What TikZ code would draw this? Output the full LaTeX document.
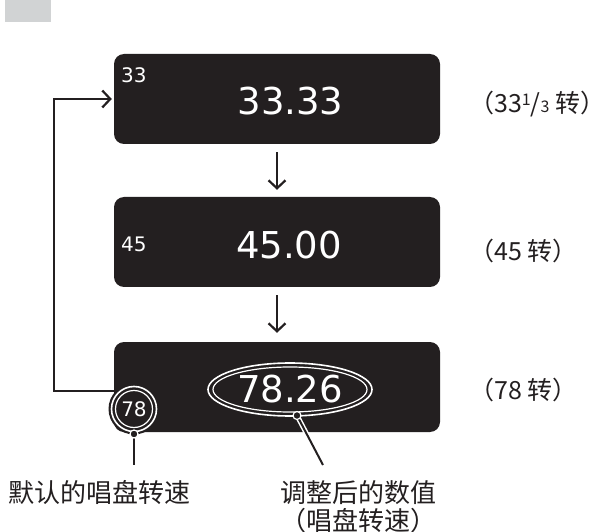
\documentclass[tikz,border=0pt]{standalone}
\usepackage{fontspec}
\setmainfont{DejaVu Sans}
\newfontfamily\cjk{Noto Sans CJK SC}
\usetikzlibrary{arrows.meta,calc}
\definecolor{boxblack}{HTML}{231F20}
\definecolor{tabgray}{HTML}{D1D3D4}
\begin{document}
\begin{tikzpicture}[x=1pt,y=-1pt,
  dispbox/.style={fill=boxblack, rounded corners=10pt, minimum width=326pt, minimum height=90pt, inner sep=0pt},
  bignum/.style={text=white, font=\fontsize{37}{37}\selectfont, inner sep=0pt},
  smallnum/.style={text=white, font=\fontsize{20}{20}\selectfont, inner sep=0pt},
  cjklabel/.style={text=boxblack, font=\cjk\fontsize{26}{28}\selectfont, inner sep=0pt},
  speedlabel/.style={text=boxblack, font=\cjk\fontsize{25}{25}\selectfont, inner sep=0pt, anchor=base west},
  flowarrow/.style={draw=boxblack, line width=2pt, -{Straight Barb[length=8pt,width=17pt,line width=2.2pt]}},
  leader/.style={draw=boxblack, line width=2pt},
  leaderedge/.style={draw=white, line width=5pt},
  pin/.style={fill=boxblack, draw=white, line width=1.2pt},
]
\useasboundingbox (0,0) rectangle (614,532);
\fill[tabgray] (5,0) rectangle (51,22);

% display boxes
\node[dispbox] (b1) at (277,99) {};
\node[dispbox] (b2) at (277,242) {};
\node[dispbox] (b3) at (277,387) {};

\node[smallnum, anchor=west] (s1) at (121,75) {33};
\node[bignum] (v1) at (290.5,101) {33.33};
\node[smallnum, anchor=west] (s2) at (121,244) {45};
\node[bignum] (v2) at (289,245) {45.00};
\node[bignum] (v3) at (290,389.5) {78.26};

% flow arrows
\draw[flowarrow] ([yshift=-8pt]b1.south) -- ([yshift=7pt]b2.north);
\draw[flowarrow] ([yshift=-8pt]b2.south) -- ([yshift=9pt]b3.north);
\coordinate (loopcorner) at (54,391);
\draw[flowarrow, line join=miter] ([yshift=-4pt]b3.west) -- (loopcorner) |- ([xshift=-2pt]b1.west);

% ellipse around value
\draw[white, line width=1.6pt] (v3) ellipse [x radius=82, y radius=26.5];
\draw[white, line width=1.2pt] (v3) ellipse [x radius=77, y radius=22.5];

% circle around default speed
\coordinate (cc) at (134,409);
\fill[boxblack] (cc) circle (25.5);
\draw[white, line width=1.6pt] (cc) circle (22.5);
\draw[white, line width=1.2pt] (cc) circle (18.5);
\node[smallnum] (s3) at (cc) {78};

% leaders
\coordinate (p1) at (134,434);
\coordinate (e1) at (134,465);
\draw[leader] (p1) -- (e1);
\fill[pin] (p1) circle (4);

\coordinate (p2) at (297,415.5);
\coordinate (e2) at (323,465);
\draw[leaderedge] (p2) -- ($(p2)!0.4!(e2)$);
\draw[leader] (p2) -- (e2);
\fill[pin] (p2) circle (4);

% labels
\node[cjklabel] (l1) at (100,493) {默认的唱盘转速};
\node[cjklabel, align=center] (l2) at (358.5,506.5) {调整后的数值\\（唱盘转速）};

\node[speedlabel] (r1) at (469,113) {（33\raisebox{7pt}{\fontsize{16}{16}\selectfont 1}/{\fontsize{16}{16}\selectfont 3} 转）};
\node[speedlabel] (r2) at (469,261) {（45 转）};
\node[speedlabel] (r3) at (469,399) {（78 转）};
\end{tikzpicture}
\end{document}
